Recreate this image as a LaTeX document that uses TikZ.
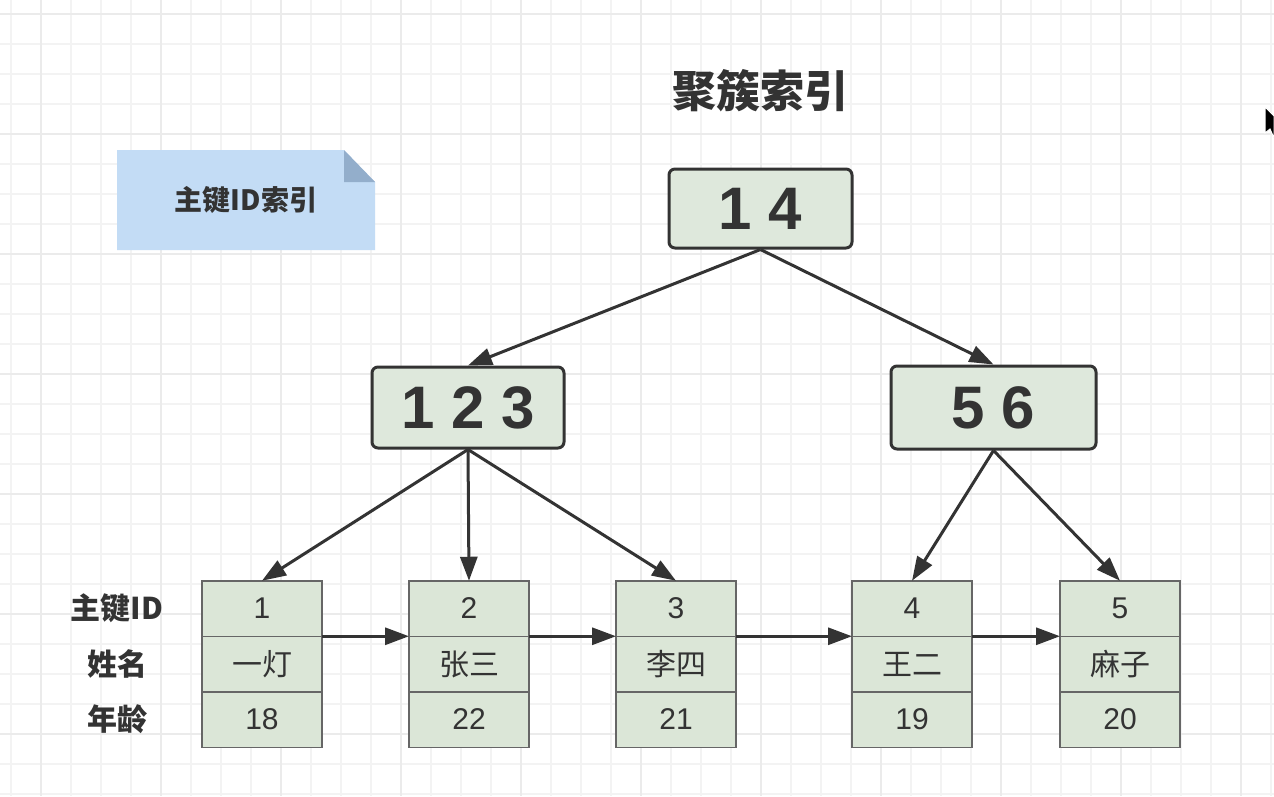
\documentclass[tikz,border=0pt]{standalone}
\usepackage{fontspec}
\setmainfont{Liberation Sans}
\newfontfamily\cjk{Noto Sans CJK SC}
\usepackage{tikz}
\usetikzlibrary{arrows.meta,positioning}
\usepackage{xcolor}
\definecolor{inkgray}{HTML}{333333}
\definecolor{keyfill}{HTML}{DEE8DC}
\definecolor{cellfill}{HTML}{DBE6D7}
\definecolor{cellborder}{HTML}{666666}
\definecolor{notefill}{HTML}{C3DCF5}
\definecolor{foldfill}{HTML}{93AECB}
\definecolor{gridminor}{HTML}{F3F3F3}
\definecolor{gridmajor}{HTML}{EBEBEB}

\begin{document}
\begin{tikzpicture}[x=1pt,y=-1pt,
  keynode/.style={draw=inkgray, line width=3pt, rounded corners=6pt, fill=keyfill, text=inkgray, inner sep=0pt, font=\bfseries\fontsize{60}{60}\selectfont},
  cell/.style={draw=cellborder, line width=1.5pt, fill=cellfill, text=inkgray, minimum width=120pt, minimum height=55.5pt, inner sep=0pt, outer sep=0pt, font=\fontsize{30}{30}\selectfont},
  rowlabel/.style={text=inkgray, inner sep=0pt, font=\cjk\bfseries\fontsize{30}{30}\selectfont},
  link/.style={draw=inkgray, line width=3pt, -{Triangle[length=24pt,width=17pt]}},
]
\useasboundingbox (0,0) rectangle (1274,796);
\fill[white] (0,0) rectangle (1274,796);

% Background grid
\foreach \gx in {11,41,...,1271} \draw[gridminor, line width=1.3pt] (\gx,0) -- (\gx,796);
\foreach \gy in {14,44,...,794} \draw[gridminor, line width=1.3pt] (0,\gy) -- (1274,\gy);
\foreach \gx in {41,161,...,1241} \draw[gridmajor, line width=1.3pt] (\gx,0) -- (\gx,796);
\foreach \gy in {14,134,...,734} \draw[gridmajor, line width=1.3pt] (0,\gy) -- (1274,\gy);

% Title
\node[text=inkgray, font=\cjk\bfseries\fontsize{44}{44}\selectfont] (title) at (760,91) {聚簇索引};

% Note
\fill[notefill] (117,150) -- (344,150) -- (375,182) -- (375,250) -- (117,250) -- cycle;
\fill[foldfill] (344,150) -- (344,182) -- (375,182) -- cycle;
\node[text=inkgray, font=\cjk\bfseries\fontsize{28}{28}\selectfont] (note) at (246,200) {主键ID索引};

% Index nodes
\node[keynode, minimum width=183pt, minimum height=79pt] (root) at (760.5,208.5) {1 4};
\node[keynode, minimum width=192pt, minimum height=81pt] (mid1) at (468,407.5) {1 2 3};
\node[keynode, minimum width=205pt, minimum height=83pt] (mid2) at (993.5,407.5) {5 6};

% Leaf rows
\foreach \i/\xc/\id/\nm/\ag in {1/262/1/一灯/18, 2/469/2/张三/22, 3/676/3/李四/21, 4/912/4/王二/19, 5/1120/5/麻子/20}{
  \node[cell] (id\i) at (\xc,608.5) {\id};
  \node[cell, below=0pt of id\i] (nm\i) {\cjk\nm};
  \node[cell, below=0pt of nm\i] (ag\i) {\ag};
}

% Row labels
\node[rowlabel] (lblid) at (117,608.5) {主键ID};
\node[rowlabel] (lblnm) at (117,664) {姓名};
\node[rowlabel] (lblag) at (117,719.5) {年龄};

% Tree links
\draw[link] (root.south) -- (mid1.north);
\draw[link] (root.south) -- (mid2.north);
\draw[link] (mid1.south) -- (id1.north);
\draw[link] (mid1.south) -- (id2.north);
\draw[link] (mid1.south) -- (id3.north);
\draw[link] (mid2.south) -- (id4.north);
\draw[link] (mid2.south) -- (id5.north);

% Leaf chain
\foreach \a/\b in {1/2, 2/3, 3/4, 4/5}
  \draw[link] (id\a.south east) -- (id\b.south west);

% Pointer
\filldraw[fill=black, draw=white, line width=1pt] (1265,107) -- (1274,116) -- (1274,138) -- (1270,129) -- (1265,133) -- cycle;
\end{tikzpicture}
\end{document}
